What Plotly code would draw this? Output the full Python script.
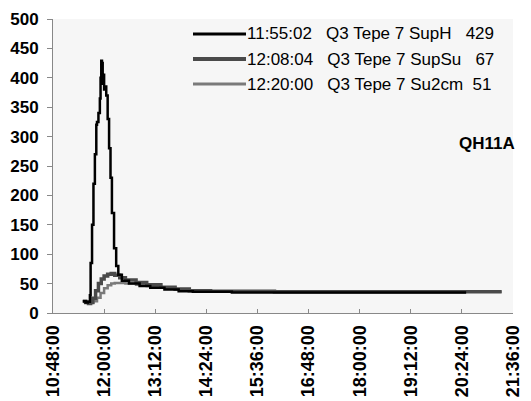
import plotly.graph_objects as go

day = "2000-01-01 "

# Series 1: 11:55:02 Q3 Tepe 7 SupH 429 (black)
suph_t = ["11:30", "11:34", "11:37", "11:40", "11:41", "11:43", "11:45", "11:47", "11:49", "11:50",
          "11:52", "11:54", "11:55", "11:56", "11:57", "11:58", "11:59", "12:00", "12:01", "12:03",
          "12:05", "12:07", "12:09", "12:11", "12:14", "12:17", "12:20", "12:25", "12:35", "12:50",
          "13:05", "13:25", "13:45", "14:05", "15:00", "17:00", "19:00", "20:30"]
suph_v = [20, 18, 19, 30, 85, 150, 220, 270, 320, 325,
          340, 365, 400, 429, 425, 390, 405, 380, 385, 370,
          330, 280, 230, 170, 110, 80, 65, 55, 50, 46,
          43, 40, 37, 36, 35, 35, 35, 35]

# Series 2: 12:08:04 Q3 Tepe 7 SupSu 67 (dark grey)
supsu_t = ["11:30", "11:34", "11:38", "11:41", "11:44", "11:48", "11:52", "11:56", "12:00", "12:05",
           "12:10", "12:15", "12:22", "12:30", "12:45", "13:00", "13:20", "13:40", "14:00", "14:30",
           "16:00", "18:00", "20:00", "21:20"]
supsu_v = [20, 18, 16, 18, 25, 38, 50, 58, 63, 66,
           67, 64, 60, 56, 52, 48, 44, 41, 38, 37,
           36, 36, 36, 36]

# Series 3: 12:20:00 Q3 Tepe 7 Su2cm 51 (grey)
su2cm_t = ["11:30", "11:35", "11:40", "11:45", "11:50", "11:55", "12:00", "12:05", "12:10", "12:15",
           "12:22", "12:30", "12:45", "13:00", "13:20", "13:40", "14:00", "14:30", "16:00", "18:00",
           "20:00", "21:20"]
su2cm_v = [20, 19, 18, 20, 26, 34, 42, 47, 50, 51,
           51, 50, 48, 46, 43, 40, 38, 37, 36, 36,
           36, 36]

sp = "\u00a0\u00a0\u00a0"
names = ["11:55:02" + sp + "Q3 Tepe 7 SupH" + sp + "429",
         "12:08:04" + sp + "Q3 Tepe 7 SupSu" + sp + "67",
         "12:20:00" + sp + "Q3 Tepe 7 Su2cm" + "\u00a0\u00a0" + "51"]

tick_times = ["10:48", "12:00", "13:12", "14:24", "15:36", "16:48", "18:00", "19:12", "20:24", "21:36"]
y_ticks = [0, 50, 100, 150, 200, 250, 300, 350, 400, 450, 500]

colors = ["#000000", "#4a4a4a", "#7a7a7a"]
widths = [2.5, 3.5, 2.5]
series = [(suph_t, suph_v), (supsu_t, supsu_v), (su2cm_t, su2cm_v)]

fig = go.Figure()
for i in [2, 1, 0]:
    t, v = series[i]
    fig.add_trace(go.Scatter(x=[day + s for s in t], y=v, mode="lines", name=names[i],
                             line=dict(color=colors[i], width=widths[i], shape="hv"),
                             showlegend=False))

# manual legend (line samples + labels) in paper coordinates
L, W, T, H = 53, 460, 19, 294
def px(x):
    return (x - L) / W
def py(y):
    return (T + H - y) / H

shapes = []
annotations = []
rows = [34, 59, 84]
for i, yy in enumerate(rows):
    shapes.append(dict(type="line", xref="paper", yref="paper",
                       x0=px(193), x1=px(246), y0=py(yy), y1=py(yy),
                       line=dict(color=colors[i], width=widths[i] + 0.5)))
    annotations.append(dict(text=names[i], xref="paper", yref="paper",
                            x=px(245), y=py(yy), xanchor="left", yanchor="middle",
                            showarrow=False, font=dict(size=17, color="black")))

annotations.append(dict(text="<b>QH11A</b>", x=px(487), y=py(143), xref="paper", yref="paper",
                        xanchor="center", yanchor="middle",
                        showarrow=False, font=dict(size=17, color="black")))

fig.update_layout(
    width=531, height=401,
    margin=dict(l=L, r=531 - L - W, t=T, b=401 - T - H),
    paper_bgcolor="white",
    plot_bgcolor="#f6f6f6",
    font=dict(family="Liberation Sans, Arial, sans-serif", color="black"),
    showlegend=False,
    xaxis=dict(type="date", automargin=False,
               range=[day + "10:48", day + "21:36"],
               tickvals=[day + t for t in tick_times],
               tickformat="%H:%M:%S", tickangle=-90,
               ticks="inside", ticklen=4, tickcolor="#888",
               showline=True, linecolor="#888", linewidth=1,
               showgrid=False, zeroline=False, ticklabelstandoff=4,
               tickfont=dict(size=18, family="Liberation Sans, Arial, sans-serif", weight="bold")),
    yaxis=dict(range=[0, 500], tickvals=y_ticks, automargin=False,
               ticks="outside", ticklen=5, tickcolor="#888",
               showline=True, linecolor="#888", linewidth=1,
               showgrid=False, zeroline=False, ticklabelstandoff=5,
               tickfont=dict(size=17, family="Liberation Sans, Arial, sans-serif", weight="bold")),
    shapes=shapes,
    annotations=annotations,
)

fig.write_html("out.html", config={"displayModeBar": False},
               post_script="document.body.style.margin='0px';document.body.style.overflow='hidden';")
